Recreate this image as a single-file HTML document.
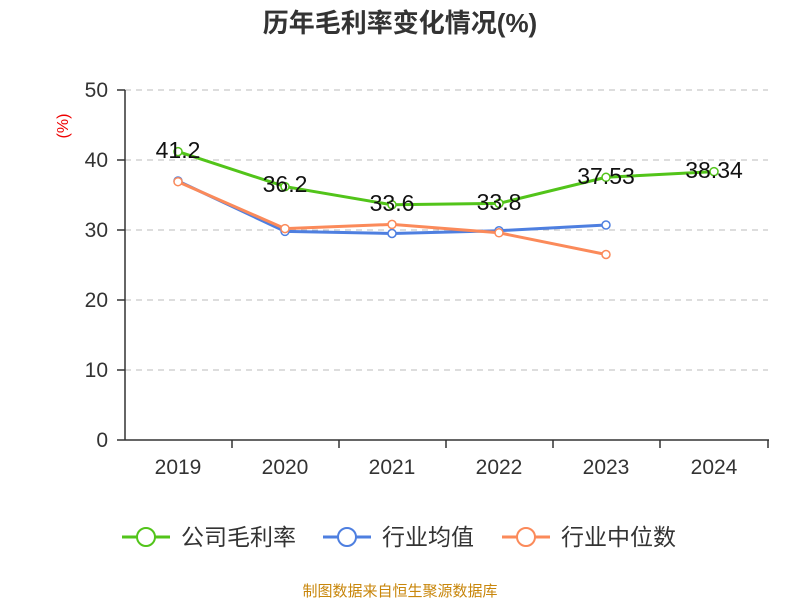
<!DOCTYPE html>
<html><head><meta charset="utf-8"><style>
body{margin:0;background:#fff;}
svg{display:block;font-family:"Liberation Sans","Noto Sans CJK SC",sans-serif;}
</style></head><body>
<svg width="800" height="600" xmlns="http://www.w3.org/2000/svg">
<text x="400" y="32" text-anchor="middle" font-size="26" font-weight="bold" fill="#333">历年毛利率变化情况(%)</text>
<text transform="translate(68,126) rotate(-90)" text-anchor="middle" font-size="16" fill="#e00">(%)</text>
<g stroke="#bbb" stroke-dasharray="6,5" stroke-width="1">
<line x1="125" x2="768" y1="90" y2="90"/><line x1="125" x2="768" y1="160" y2="160"/>
<line x1="125" x2="768" y1="230" y2="230"/><line x1="125" x2="768" y1="300" y2="300"/>
<line x1="125" x2="768" y1="370" y2="370"/></g>
<g stroke="#333" stroke-width="1.5">
<line x1="125" x2="125" y1="90" y2="440"/><line x1="125" x2="769" y1="440" y2="440"/>
<line x1="117" x2="125" y1="90" y2="90"/><line x1="117" x2="125" y1="160" y2="160"/>
<line x1="117" x2="125" y1="230" y2="230"/><line x1="117" x2="125" y1="300" y2="300"/>
<line x1="117" x2="125" y1="370" y2="370"/><line x1="117" x2="125" y1="440" y2="440"/>
<line x1="232" x2="232" y1="440" y2="448"/><line x1="339" x2="339" y1="440" y2="448"/>
<line x1="446" x2="446" y1="440" y2="448"/><line x1="553" x2="553" y1="440" y2="448"/>
<line x1="660" x2="660" y1="440" y2="448"/><line x1="768" x2="768" y1="440" y2="448"/>
</g>
<g font-size="21" fill="#333" text-anchor="end">
<text x="108" y="97">50</text><text x="108" y="167">40</text><text x="108" y="237">30</text>
<text x="108" y="307">20</text><text x="108" y="377">10</text><text x="108" y="447">0</text></g>
<g font-size="21" fill="#333" text-anchor="middle">
<text x="178" y="474">2019</text><text x="285" y="474">2020</text><text x="392" y="474">2021</text>
<text x="499" y="474">2022</text><text x="606" y="474">2023</text><text x="714" y="474">2024</text></g>
<polyline fill="none" stroke="#4e7fe0" stroke-width="3" points="178,181 285,231.4 392,233.5 499,230.7 606,225"/>
<polyline fill="none" stroke="#fb8a5a" stroke-width="3" points="178,181.7 285,228.6 392,224.4 499,232.8 606,254.5"/>
<polyline fill="none" stroke="#52c41a" stroke-width="3" points="178,151.6 285,186.6 392,204.8 499,203.4 606,177.3 714,171.6"/>
<g fill="#fff" stroke-width="1.5">
<g stroke="#4e7fe0"><circle cx="178" cy="181" r="4"/><circle cx="285" cy="231.4" r="4"/><circle cx="392" cy="233.5" r="4"/><circle cx="499" cy="230.7" r="4"/><circle cx="606" cy="225" r="4"/></g>
<g stroke="#fb8a5a"><circle cx="178" cy="181.7" r="4"/><circle cx="285" cy="228.6" r="4"/><circle cx="392" cy="224.4" r="4"/><circle cx="499" cy="232.8" r="4"/><circle cx="606" cy="254.5" r="4"/></g>
<g stroke="#52c41a"><circle cx="178" cy="151.6" r="4"/><circle cx="285" cy="186.6" r="4"/><circle cx="392" cy="204.8" r="4"/><circle cx="499" cy="203.4" r="4"/><circle cx="606" cy="177.3" r="4"/><circle cx="714" cy="171.6" r="4"/></g>
</g>
<g font-size="23" fill="#111" text-anchor="middle">
<text x="178" y="158">41.2</text><text x="285" y="192">36.2</text><text x="392" y="211">33.6</text>
<text x="499" y="210">33.8</text><text x="606" y="184">37.53</text><text x="714" y="178">38.34</text></g>
<g font-size="23" fill="#333">
<line x1="122" x2="170" y1="537" y2="537" stroke="#52c41a" stroke-width="3"/><circle cx="146" cy="537" r="9" fill="#fff" stroke="#52c41a" stroke-width="2"/>
<text x="181" y="545">公司毛利率</text>
<line x1="323" x2="371" y1="537" y2="537" stroke="#4e7fe0" stroke-width="3"/><circle cx="347" cy="537" r="9" fill="#fff" stroke="#4e7fe0" stroke-width="2"/>
<text x="382" y="545">行业均值</text>
<line x1="502" x2="550" y1="537" y2="537" stroke="#fb8a5a" stroke-width="3"/><circle cx="526" cy="537" r="9" fill="#fff" stroke="#fb8a5a" stroke-width="2"/>
<text x="561" y="545">行业中位数</text></g>
<text x="400" y="596" text-anchor="middle" font-size="15" fill="#c8860b">制图数据来自恒生聚源数据库</text>
</svg>
</body></html>
